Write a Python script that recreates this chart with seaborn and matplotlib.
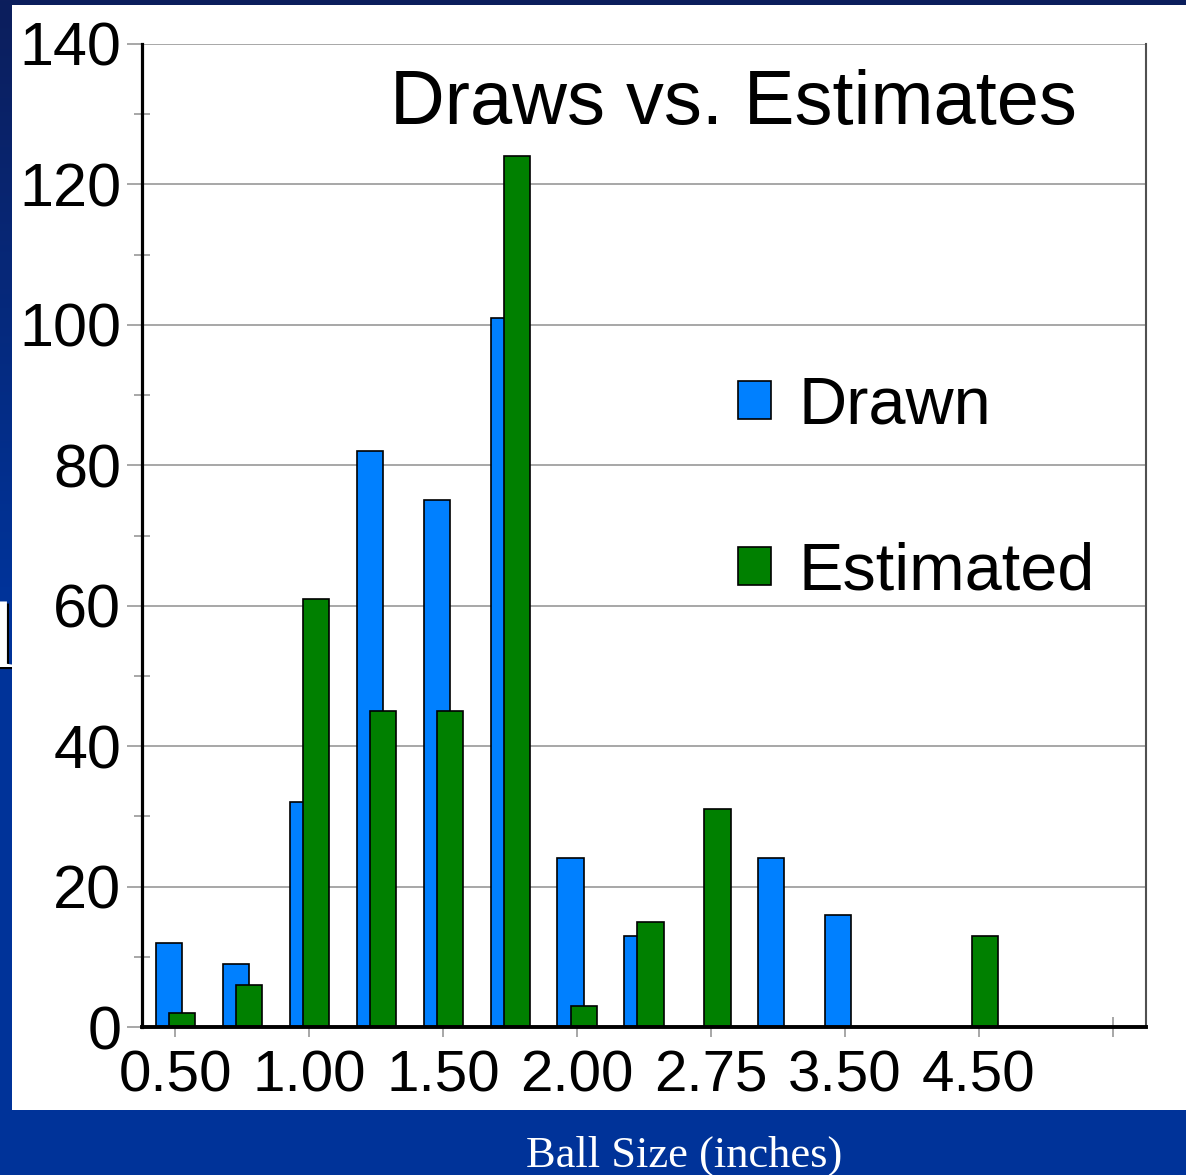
import numpy as np
import pandas as pd
import matplotlib
matplotlib.use("Agg")
import matplotlib.pyplot as plt
import matplotlib.patches as mpatches
import matplotlib.patheffects as pe
import seaborn as sns

# ---- data -------------------------------------------------------------
sizes = ["0.50", "0.75", "1.00", "1.25", "1.50", "1.75", "2.00", "2.25",
         "2.75", "3.00", "3.50", "4.00", "4.50", "5.00", "6.00"]
drawn = [12, 9, 32, 82, 75, 101, 24, 13, 0, 24, 16, 0, 0, 0, 0]
estimated = [2, 6, 61, 45, 45, 124, 3, 15, 31, 0, 0, 0, 13, 0, 0]
series = ["Drawn", "Estimated"]
series_colors = ["#0080ff", "#008000"]
shown_labels = ["0.50", "1.00", "1.50", "2.00", "2.75", "3.50", "4.50"]
y_major = list(range(0, 141, 20))
y_minor = list(range(10, 140, 20))

df = pd.DataFrame({
    "size": sizes * 2,
    "count": drawn + estimated,
    "series": [series[0]] * len(sizes) + [series[1]] * len(sizes),
})

# ---- style ------------------------------------------------------------
sns.set_style("white")
plt.rcParams["font.family"] = ["Liberation Sans", "DejaVu Sans"]
plt.rcParams["text.color"] = "black"
plt.rcParams["xtick.labelcolor"] = "black"
plt.rcParams["ytick.labelcolor"] = "black"

W, H = 1186, 1175
fig = plt.figure(figsize=(W / 100, H / 100), dpi=100)

# slide-like background: dark-to-blue gradient, white panel, bottom band
ax_bg = fig.add_axes([0, 0, 1, 1])
ax_bg.set_xlim(0, W)
ax_bg.set_ylim(H, 0)
ax_bg.axis("off")
top_c = np.array([12, 30, 92]) / 255
bot_c = np.array([0, 51, 153]) / 255
t = np.clip(np.linspace(0, 1, H) / 0.5, 0, 1)[:, None]
grad = top_c[None, :] * (1 - t) + bot_c[None, :] * t
ax_bg.imshow(grad[:, None, :].repeat(4, axis=1), extent=(0, W, H, 0),
             aspect="auto", zorder=0)
ax_bg.add_patch(mpatches.Rectangle((12, 5), W - 12, 1105,
                                   facecolor="white", edgecolor="none", zorder=1))
ax_bg.text(-10, 667, "l", fontsize=68, family="Liberation Serif", color="white",
           va="baseline", ha="left", zorder=0.5,
           path_effects=[pe.SimplePatchShadow(offset=(1.5, -1.5),
                                              shadow_rgbFace="black", alpha=1),
                         pe.Normal()])
fig.text(684 / W, 1 - 1167 / H, "Ball Size (inches)", fontsize=32,
         family="Liberation Serif", color="white", ha="center", va="baseline")

# ---- chart ------------------------------------------------------------
ax = fig.add_axes([142 / W, 1 - 1027 / H, (1146 - 142) / W, (1027 - 44) / H])
ax.set_facecolor("white")
sns.barplot(data=df, x="size", y="count", hue="series", order=sizes,
            hue_order=series, palette=series_colors, width=0.39, gap=-1.0,
            edgecolor="black", linewidth=1.2, saturation=1, legend=False, ax=ax)

ax.set_xlim(-0.5, len(sizes) - 0.5)
ax.set_ylim(0, 140)
ax.set_xlabel("")
ax.set_ylabel("")

ax.set_yticks(y_major)
ax.set_yticks(y_minor, minor=True)
ax.set_yticklabels([str(v) for v in y_major])
ax.yaxis.grid(True, which="major", color="#a0a0a0", linewidth=1.3)
ax.set_axisbelow(True)
ax.tick_params(axis="y", which="major", left=True, length=11, width=1.3,
               color="#a0a0a0", direction="out", pad=4, labelsize=44,
               labelcolor="black")
ax.tick_params(axis="y", which="minor", left=True, length=12, width=1.3,
               color="#a0a0a0", direction="inout")

ax.set_xticks(list(range(0, 13, 2)), labels=shown_labels)
ax.set_xticks([14], minor=True)
ax.tick_params(axis="x", which="major", bottom=True, length=7, width=1.3,
               color="#a0a0a0", direction="out", pad=9, labelsize=42,
               labelcolor="black")
ax.tick_params(axis="x", which="minor", bottom=True, length=14, width=1.3,
               color="#a0a0a0", direction="inout")

ax.spines["top"].set_visible(False)
ax.spines["left"].set_color("black")
ax.spines["left"].set_linewidth(2.3)
ax.spines["bottom"].set_color("black")
ax.spines["bottom"].set_linewidth(2.8)
ax.spines["right"].set_color("#505050")
ax.spines["right"].set_linewidth(1.5)

ax.text((733 - 142) / 1004, (1027 - 124) / 983, "Draws vs. Estimates",
        transform=ax.transAxes, fontsize=54.5, ha="center", va="baseline",
        color="black")

handles = [mpatches.Patch(facecolor=c, edgecolor="black", linewidth=1.2)
           for c in series_colors]
ax.legend(handles, series, loc="upper left",
          bbox_to_anchor=((738 - 142) / 1004, (1027 - 376) / 983),
          frameon=False, fontsize=48, handlelength=0.5, handleheight=0.5,
          handletextpad=0.4, labelspacing=1.55, borderpad=0, borderaxespad=0,
          labelcolor="black")

fig.savefig("out.png", dpi=100)
